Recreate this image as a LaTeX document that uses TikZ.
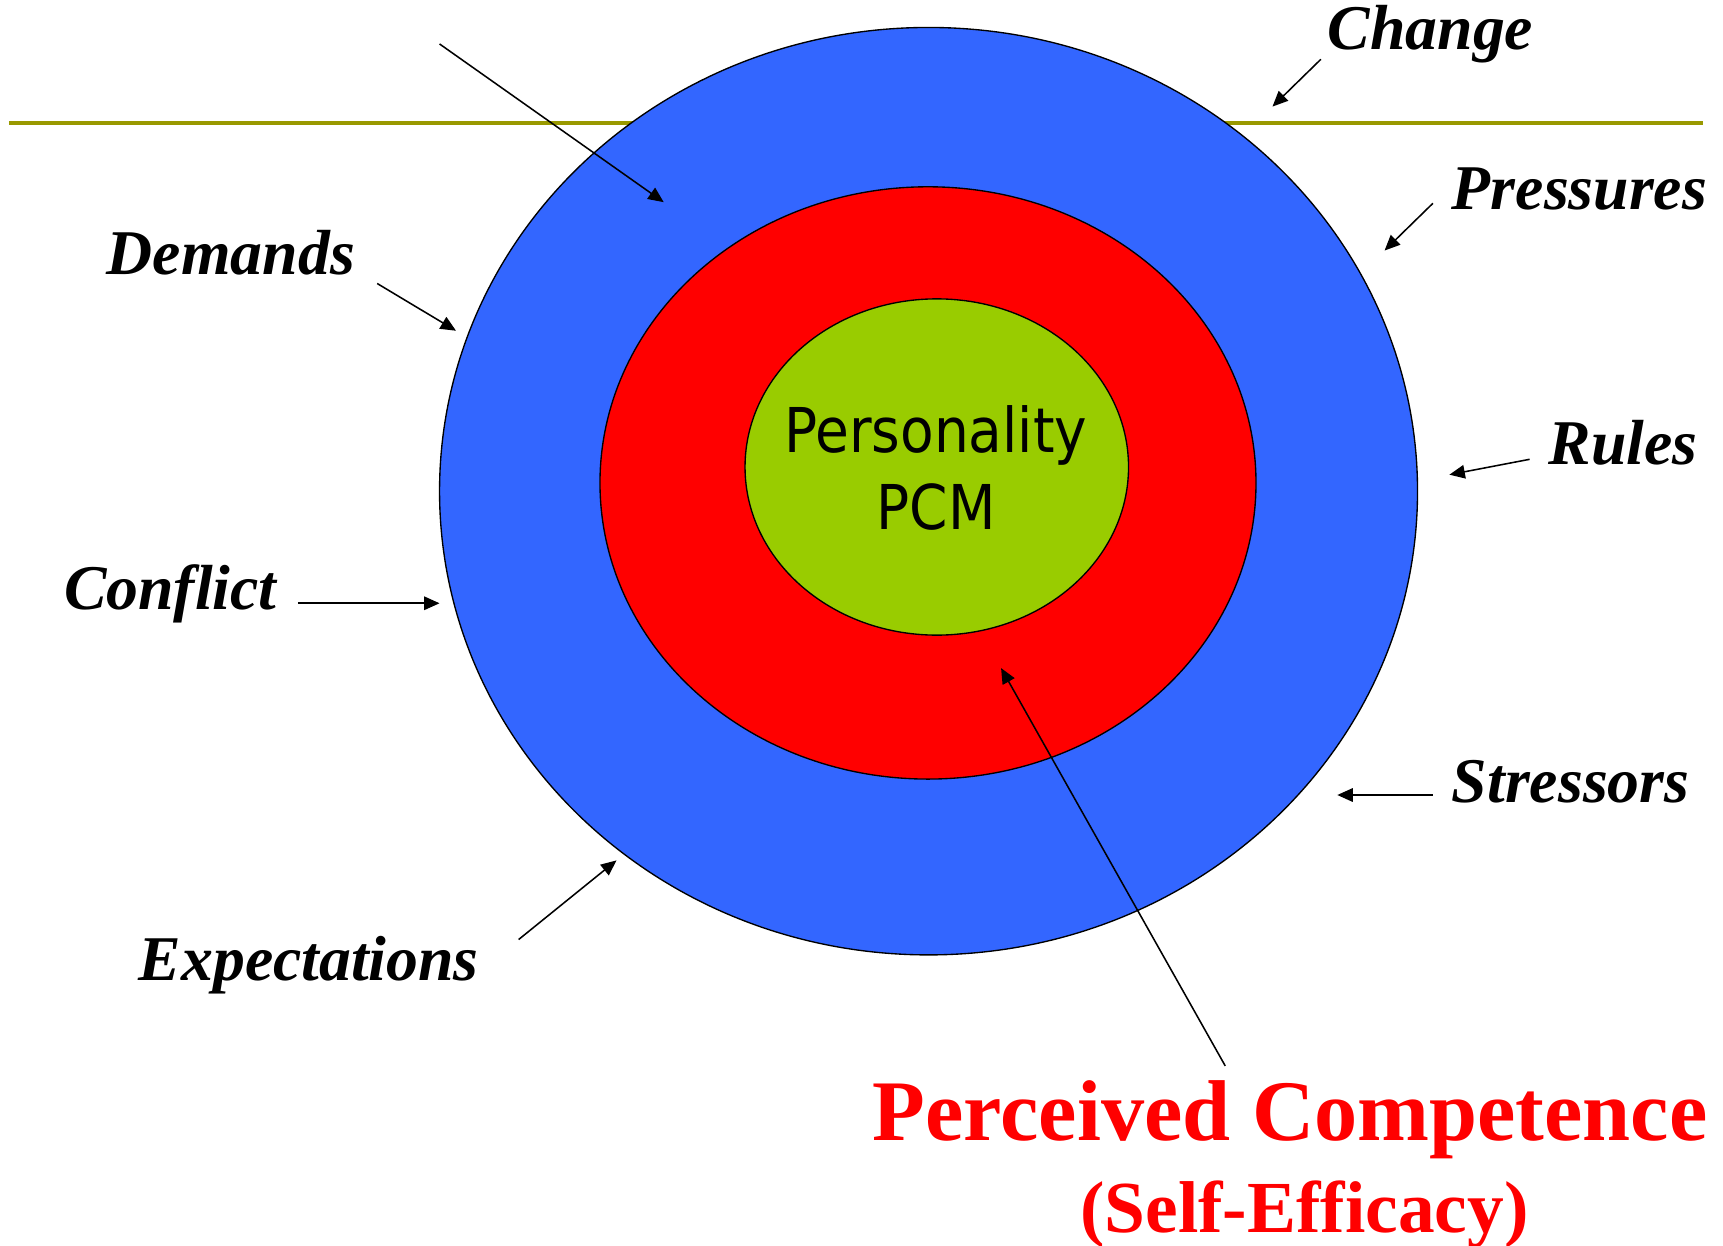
\documentclass[tikz,border=0pt]{standalone}
\usepackage{fontspec}
\setmainfont{Liberation Serif}
\newfontfamily\ringfont{DejaVu Sans}
\usetikzlibrary{arrows.meta}

\definecolor{ringblue}{RGB}{51,102,255}
\definecolor{ringred}{RGB}{255,0,0}
\definecolor{ringgreen}{RGB}{153,204,0}
\definecolor{rulecol}{RGB}{153,153,0}

\tikzset{
	force/.style={inner sep=0pt, font=\fontsize{33}{40}\selectfont\bfseries\itshape},
	arr/.style={line width=0.8pt, -{Triangle[length=8pt,width=7pt]}},
	ring/.style={draw=black, line width=0.7pt}
}

\begin{document}
\begin{tikzpicture}[x=2cm, y=2cm]
			%%%%% START %%%%%
			\useasboundingbox (0, 0) rectangle (15.68, 11.33);
			
			\draw[line width=2pt, color=rulecol] (0.08, 10.21) -- (15.50, 10.21);
			
			% the three rings
			\draw[ring, fill=ringblue] (8.45, 6.86) ellipse (4.45 and 4.22);
			\draw[ring, fill=ringred] (8.445, 6.935) ellipse (2.985 and 2.695);
			\draw[ring, fill=ringgreen] (8.525, 7.08) ellipse (1.745 and 1.53);
			
			\node[inner sep=0pt, anchor=base, xscale=0.89, font=\ringfont\fontsize{32}{38}\selectfont] (pers) at (8.515, 7.21) {Personality};
			\node[inner sep=0pt, anchor=base, xscale=0.89, font=\ringfont\fontsize{32}{38}\selectfont] (pcm) at (8.52, 6.51) {PCM};
			
			% outside forces
			\node[force, anchor=base west] (change) at (12.08, 10.875) {Change};
			\node[force, anchor=base west] (pressures) at (13.21, 9.42) {Pressures};
			\node[force, anchor=base west] (rules) at (14.09, 7.10) {Rules};
			\node[force, anchor=base west] (stressors) at (13.21, 4.025) {Stressors};
			\node[force, anchor=base west] (demands) at (0.97, 8.83) {Demands};
			\node[force, anchor=base west] (conflict) at (0.58, 5.78) {Conflict};
			\node[force, anchor=base west] (expect) at (1.26, 2.41) {Expectations};
			
			\node[inner sep=0pt, anchor=base, text=ringred, font=\fontsize{44.7}{50}\selectfont\bfseries] (pc) at (11.74, 0.95) {Perceived Competence};
			\node[inner sep=0pt, anchor=base, text=ringred, font=\fontsize{38}{44}\selectfont\bfseries] (se) at (11.87, 0.11) {(Self-Efficacy)};
			
			% arrow tips
			\coordinate (top-t) at (4.00, 10.93);
			\coordinate (top-h) at (6.04, 9.49);
			\coordinate (change-h) at (11.58, 10.36);
			\coordinate (pressures-h) at (12.60, 9.05);
			\coordinate (rules-h) at (13.19, 7.01);
			\coordinate (stressors-h) at (12.17, 4.095);
			\coordinate (demands-h) at (4.15, 8.32);
			\coordinate (conflict-h) at (4.00, 5.84);
			\coordinate (expect-h) at (5.61, 3.50);
			\coordinate (pc-h) at (9.11, 5.25);
			
			\draw[arr] (top-t) -- (top-h);
			\draw[arr] ([shift={(-0.06,-0.085)}]change.base west) -- (change-h);
			\draw[arr] ([shift={(-0.17,0.06)}]pressures.base west) -- (pressures-h);
			\draw[arr] ([shift={(-0.17,0.05)}]rules.base west) -- (rules-h);
			\draw[arr] ([shift={(-0.17,0.07)}]stressors.base west) -- (stressors-h);
			\draw[arr] ([shift={(0.20,-0.08)}]demands.base east) -- (demands-h);
			\draw[arr] ([shift={(0.19,0.06)}]conflict.base east) -- (conflict-h);
			\draw[arr] ([shift={(0.36,0.37)}]expect.base east) -- (expect-h);
			\draw[arr] ([shift={(-0.59,0.68)}]pc.base) -- (pc-h);
			
			%%%%% END %%%%%
		\end{tikzpicture}
\end{document}
